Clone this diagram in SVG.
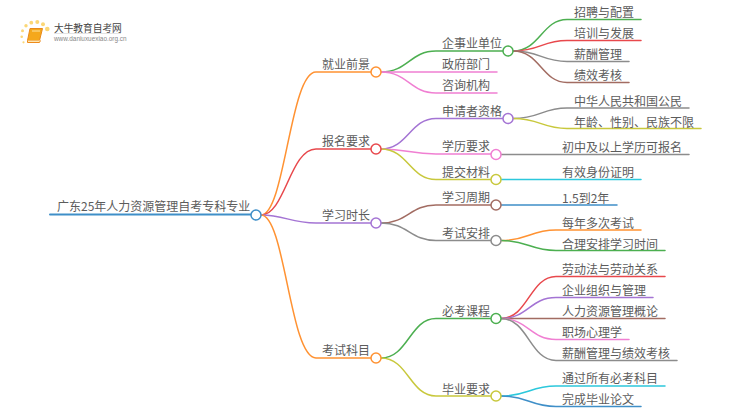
<svg xmlns="http://www.w3.org/2000/svg" width="750" height="410" viewBox="0 0 750 410">
<style>
text{font-family:"Noto Sans CJK SC","Noto Sans",sans-serif;font-size:12px;fill:#5c5c5c}
.c{fill:none;stroke-width:1.5;stroke-linecap:round}
.n{fill:#fff;stroke-width:1.5}
.org{stroke:#ff9232}.red{stroke:#e8484c}.pur{stroke:#a474d4}.blu{stroke:#3f8fc8}.pnk{stroke:#f07fd2}.olv{stroke:#c8c83c}.brn{stroke:#a26c62}.gry{stroke:#8c8c8c}.cyn{stroke:#2cc8dc}.grn{stroke:#4caf50}
</style>
<g id="logo">
<g fill="#fbd776"><circle cx="47.300" cy="29" r="2.300"/><circle cx="43" cy="24.300" r="2"/><circle cx="37.300" cy="22" r="2"/><circle cx="31.300" cy="22.700" r="1.900"/><circle cx="26" cy="25.700" r="1.700"/><circle cx="22.500" cy="30.700" r="1.500"/><circle cx="21.700" cy="36.700" r="1.300"/><circle cx="23.500" cy="42.300" r="1.100"/></g>
<path d="M30 28.500H42.500L39.500 40.500H27.500Z" fill="#f5a81c" stroke="#e8891a" stroke-width="1"/>
<path d="M27.500 40.500L27.500 42.500H39.500L40.500 40.500" fill="#fde6b0" stroke="#ee8a1a" stroke-width="1"/>
<path d="M32 31H40" stroke="#fbe3a0" stroke-width="1"/>
<text x="54" y="31.500" style="font-size:9.700px;fill:#444">大牛教育自考网</text>
<path d="M54 33.500H121" stroke="#ddd" stroke-width="0.800"/>
<text x="54" y="41" style="font-size:6.400px;fill:#888;font-family:'Liberation Sans',sans-serif">www.daniuxuexiao.org.cn</text>
</g>
<g id="connectors">
<path class="c blu" style="stroke-width:2" d="M50 214.500H251"/>
<path class="c org" d="M261 215C285 215 290 72 316 72H371"/>
<path class="c red" d="M261 215C285 215 290 149 316 149H371"/>
<path class="c pur" d="M261 215C285 215 290 223 316 223H371"/>
<path class="c org" d="M261 215C285 215 290 358 316 358H371"/>
<path class="c grn" d="M381 72C408 72 410 51 436 51H503"/>
<path class="c pnk" d="M381 72H497"/>
<path class="c pnk" d="M381 72C408 72 410 93 436 93H497"/>
<path class="c pur" d="M381 149C408 149 410 118.500 436 118.500H503"/>
<path class="c pnk" d="M381 149C408 149 410 154 436 154H491"/>
<path class="c olv" d="M381 149C408 149 410 179.500 436 179.500H491"/>
<path class="c brn" d="M381 223C408 223 410 205 436 205H491"/>
<path class="c gry" d="M381 223C408 223 410 240.500 436 240.500H491"/>
<path class="c grn" d="M381 358C408 358 410 318.500 436 318.500H491"/>
<path class="c olv" d="M381 358C408 358 410 396 436 396H491"/>
<path class="c grn" d="M513 51C540 51 542 19.500 567 19.500H641"/>
<path class="c red" d="M513 51C540 51 542 40.500 567 40.500H641"/>
<path class="c gry" d="M513 51C540 51 542 61.500 567 61.500H629"/>
<path class="c brn" d="M513 51C540 51 542 82.500 567 82.500H629"/>
<path class="c gry" d="M513 118.500C540 118.500 542 108 567 108H689"/>
<path class="c olv" d="M513 118.500C540 118.500 542 128.500 567 128.500H701"/>
<path class="c gry" d="M501 154.500H689"/>
<path class="c cyn" d="M501 179.500H641"/>
<path class="c blu" d="M501 205H617"/>
<path class="c org" d="M501 240.500C528 240.500 530 230 556 230H641"/>
<path class="c grn" d="M501 240.500C528 240.500 530 250.500 556 250.500H665"/>
<path class="c red" d="M501 318.500C528 318.500 530 276.500 556 276.500H665"/>
<path class="c pur" d="M501 318.500C528 318.500 530 297.500 556 297.500H653"/>
<path class="c brn" d="M501 318.500H665"/>
<path class="c pnk" d="M501 318.500C528 318.500 530 339.500 556 339.500H629"/>
<path class="c gry" d="M501 318.500C528 318.500 530 360.500 556 360.500H677"/>
<path class="c cyn" d="M501 396C528 396 530 386 556 386H665"/>
<path class="c blu" d="M501 396C528 396 530 406.500 556 406.500H641"/>
</g>
<g id="root"><text x="57" y="211">广东25年人力资源管理自考专科专业</text><circle class="n blu" cx="256" cy="215" r="5"/></g>
<g id="n1"><text x="322" y="69">就业前景</text><circle class="n org" cx="376" cy="72" r="5"/></g>
<g id="n2"><text x="322" y="146">报名要求</text><circle class="n red" cx="376" cy="149" r="5"/></g>
<g id="n3"><text x="322" y="220">学习时长</text><circle class="n pur" cx="376" cy="223" r="5"/></g>
<g id="n4"><text x="322" y="355">考试科目</text><circle class="n org" cx="376" cy="358" r="5"/></g>
<g id="n11"><text x="442" y="48">企事业单位</text><circle class="n grn" cx="508" cy="51" r="5"/></g>
<g id="n12"><text x="442" y="69">政府部门</text></g>
<g id="n13"><text x="442" y="90">咨询机构</text></g>
<g id="n21"><text x="442" y="115.500">申请者资格</text><circle class="n pur" cx="508" cy="118.500" r="5"/></g>
<g id="n22"><text x="442" y="151">学历要求</text><circle class="n pnk" cx="496" cy="154.500" r="5"/></g>
<g id="n23"><text x="442" y="176.500">提交材料</text><circle class="n olv" cx="496" cy="179.500" r="5"/></g>
<g id="n31"><text x="442" y="202">学习周期</text><circle class="n brn" cx="496" cy="205" r="5"/></g>
<g id="n32"><text x="442" y="237.500">考试安排</text><circle class="n gry" cx="496" cy="240.500" r="5"/></g>
<g id="n41"><text x="442" y="315.500">必考课程</text><circle class="n grn" cx="496" cy="318.500" r="5"/></g>
<g id="n42"><text x="442" y="394">毕业要求</text><circle class="n olv" cx="496" cy="396" r="5"/></g>
<g id="l1"><text x="574" y="17">招聘与配置</text></g>
<g id="l2"><text x="574" y="38">培训与发展</text></g>
<g id="l3"><text x="574" y="59">薪酬管理</text></g>
<g id="l4"><text x="574" y="80">绩效考核</text></g>
<g id="l5"><text x="574" y="105.500">中华人民共和国公民</text></g>
<g id="l6"><text x="574" y="127">年龄、性别、民族不限</text></g>
<g id="l7"><text x="562" y="152">初中及以上学历可报名</text></g>
<g id="l8"><text x="562" y="177">有效身份证明</text></g>
<g id="l9"><text x="562" y="202.500">1.5到2年</text></g>
<g id="l10"><text x="562" y="228">每年多次考试</text></g>
<g id="l11"><text x="562" y="249">合理安排学习时间</text></g>
<g id="l12"><text x="562" y="273.500">劳动法与劳动关系</text></g>
<g id="l13"><text x="562" y="294.500">企业组织与管理</text></g>
<g id="l14"><text x="562" y="316">人力资源管理概论</text></g>
<g id="l15"><text x="562" y="336.500">职场心理学</text></g>
<g id="l16"><text x="562" y="358">薪酬管理与绩效考核</text></g>
<g id="l17"><text x="562" y="383">通过所有必考科目</text></g>
<g id="l18"><text x="562" y="404">完成毕业论文</text></g>
</svg>
